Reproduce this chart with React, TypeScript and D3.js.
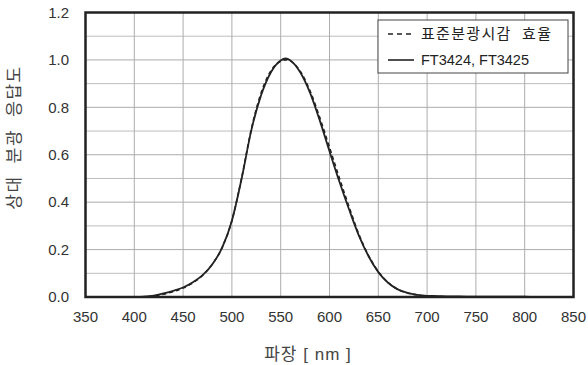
import React from "react";
import * as d3 from "d3";

const wavelengths = [350, 360, 370, 380, 390, 400, 410, 420, 430, 440, 450, 460, 470, 480, 490, 500, 510, 520, 530, 540, 550, 555, 560, 570, 580, 590, 600, 610, 620, 630, 640, 650, 660, 670, 680, 690, 700, 710, 720, 730, 740, 750, 760, 770, 780, 790, 800, 810, 820, 830, 840, 850];

const standardValues = [0, 0, 0, 0.00004, 0.00012, 0.0004, 0.0012, 0.004, 0.0116, 0.023, 0.038, 0.06, 0.091, 0.139, 0.208, 0.323, 0.503, 0.71, 0.862, 0.954, 0.995, 1.0, 0.995, 0.952, 0.87, 0.757, 0.631, 0.503, 0.381, 0.265, 0.175, 0.107, 0.061, 0.032, 0.017, 0.0082, 0.0041, 0.0021, 0.00105, 0.00052, 0.00025, 0.00012, 0.00006, 0.00003, 0.000015, 0, 0, 0, 0, 0, 0, 0];

const ftValues = [0, 0, 0, 0, 0.0002, 0.0006, 0.002, 0.006, 0.015, 0.026, 0.04, 0.062, 0.092, 0.138, 0.208, 0.322, 0.5, 0.705, 0.852, 0.948, 0.998, 1.006, 0.998, 0.948, 0.862, 0.745, 0.615, 0.488, 0.37, 0.26, 0.172, 0.105, 0.06, 0.032, 0.017, 0.009, 0.005, 0.004, 0.003, 0.0025, 0.002, 0.002, 0.0015, 0.0015, 0.0012, 0.001, 0.001, 0.0008, 0.0006, 0.0004, 0.0002, 0];

const xTicks = [350, 400, 450, 500, 550, 600, 650, 700, 750, 800, 850];
const yTicks = [0, 0.2, 0.4, 0.6, 0.8, 1.0, 1.2];
const yMinorTicks = [0.1, 0.3, 0.5, 0.7, 0.9, 1.1];

const legendLabels = ["표준분광시감 효율", "FT3424, FT3425"];
const xTitle = "파장 [ nm ]";
const yTitle = "상대 분광 응답도";

const FONT = "'Liberation Sans', Arial, 'Noto Sans CJK KR', sans-serif";

export default function App() {
  const W = 588;
  const H = 365;
  const left = 85.5;
  const right = 573.5;
  const top = 12.5;
  const bottom = 297;

  const x = d3.scaleLinear().domain([350, 850]).range([left, right]);
  const y = d3.scaleLinear().domain([0, 1.2]).range([bottom, top]);

  const line = d3
    .line<number>()
    .x((_, i) => x(wavelengths[i]))
    .y((d) => y(d))
    .curve(d3.curveMonotoneX);

  const stdPath = line(standardValues) || "";
  const ftPath = line(ftValues) || "";

  const lg = { x: 378, y: 20, w: 190, h: 53 };

  return (
    <svg
      width={W}
      height={H}
      style={{ position: "absolute", left: 0, top: 0, background: "#fff" }}
      fontFamily={FONT}
    >
      <rect x={0} y={0} width={W} height={H} fill="#fff" />
      {/* grid */}
      {yMinorTicks.map((t) => (
        <line key={"ym" + t} x1={left} x2={right} y1={y(t)} y2={y(t)} stroke="#bdbdbd" strokeWidth={1} />
      ))}
      {yTicks.map((t) => (
        <line key={"y" + t} x1={left} x2={right} y1={y(t)} y2={y(t)} stroke="#adadad" strokeWidth={1} />
      ))}
      {xTicks.map((t) => (
        <line key={"x" + t} x1={x(t)} x2={x(t)} y1={top} y2={bottom} stroke="#adadad" strokeWidth={1} />
      ))}

      {/* curves */}
      <path d={stdPath} fill="none" stroke="#222" strokeWidth={1.6} strokeDasharray="4,3" />
      <path d={ftPath} fill="none" stroke="#222" strokeWidth={1.8} />

      {/* frame */}
      <rect x={left} y={top} width={right - left} height={bottom - top} fill="none" stroke="#222" strokeWidth={2.5} />

      {/* tick labels */}
      {yTicks.map((t) => (
        <text key={"yl" + t} x={69} y={y(t)} dy="0.35em" textAnchor="end" fontSize={15} fill="#333">
          {t.toFixed(1)}
        </text>
      ))}
      {xTicks.map((t) => (
        <text key={"xl" + t} x={x(t)} y={322} textAnchor="middle" fontSize={15} fill="#333">
          {t}
        </text>
      ))}

      {/* titles */}
      <text x={308} y={360} textAnchor="middle" fontSize={17} fill="#444" letterSpacing={1}>
        {xTitle}
      </text>
      <text
        transform={`translate(20, 137.5) rotate(-90)`}
        textAnchor="middle"
        fontSize={17}
        fill="#444"
        letterSpacing={1.5}
        wordSpacing={6}
      >
        {yTitle}
      </text>

      {/* legend */}
      <rect x={lg.x} y={lg.y} width={lg.w} height={lg.h} fill="#fff" stroke="#444" strokeWidth={1} />
      <line x1={lg.x + 10} x2={lg.x + 36} y1={lg.y + 14} y2={lg.y + 14} stroke="#222" strokeWidth={1.6} strokeDasharray="5,4" />
      <text x={lg.x + 43} y={lg.y + 14} dy="0.35em" fontSize={15} fill="#222" letterSpacing={1.3} wordSpacing={5}>
        {legendLabels[0]}
      </text>
      <line x1={lg.x + 10} x2={lg.x + 36} y1={lg.y + 40} y2={lg.y + 40} stroke="#222" strokeWidth={1.6} />
      <text x={lg.x + 43} y={lg.y + 40} dy="0.35em" fontSize={14.5} fill="#222">
        {legendLabels[1]}
      </text>
    </svg>
  );
}
